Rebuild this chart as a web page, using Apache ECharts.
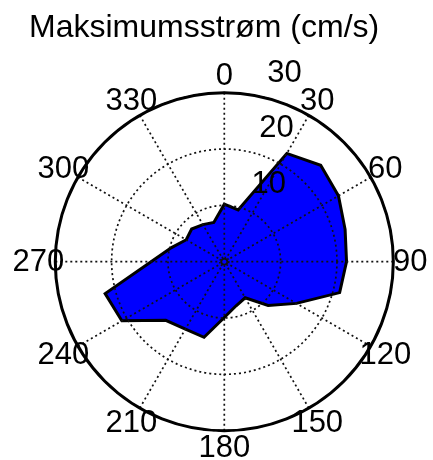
<!DOCTYPE html>
<html>
<head>
<meta charset="utf-8">
<script src="https://cdn.jsdelivr.net/npm/echarts@6/dist/echarts.min.js"></script>
<style>
  html, body { margin: 0; padding: 0; background: #fff; }
  #chart { width: 433px; height: 460px; }
</style>
</head>
<body>
<div id="chart"></div>
<script>
// ---- data ----
const titleText = 'Maksimumsstrøm (cm/s)';
const directions = [0, 15, 30, 45, 60, 75, 90, 105, 120, 135, 150, 165,
                    180, 195, 210, 225, 240, 255, 270, 285, 300, 315, 330, 345];
const maxSpeed = [10.2, 9.5, 22.2, 24.2, 23.4, 22.2, 21.7, 21.2, 14.8, 11.0, 7.4, 8.1,
                  9.9, 13.9, 13.8, 14.7, 21.0, 21.9, 13.0, 9.7, 7.8, 8.2, 7.6, 7.2];
const angleTicks = [0, 30, 60, 90, 120, 150, 180, 210, 240, 270, 300, 330];
const radialTicks = [10, 20, 30];

const FONT = '"Liberation Sans", Arial, sans-serif';
const chart = echarts.init(document.getElementById('chart'));

const gridLine = { color: '#111', width: 1.7, type: [2, 3] };

const option = {
  backgroundColor: '#fff',
  animation: false,
  title: {
    text: titleText,
    left: 29, top: 12, padding: 0,
    textStyle: { fontFamily: FONT, fontSize: 32, fontWeight: 'normal', color: '#000' }
  },
  polar: { center: [224.3, 261.7], radius: 169 },
  angleAxis: {
    type: 'value', min: 0, max: 360, interval: 30,
    startAngle: 90, clockwise: true, z: 3,
    axisLine: { show: true, lineStyle: { color: '#000', width: 3 } },
    axisTick: { show: false },
    axisLabel: { show: false },
    splitLine: { show: true, lineStyle: gridLine }
  },
  radiusAxis: {
    type: 'value', min: 0, max: 30, interval: 10, z: 3,
    axisLine: { show: false },
    axisTick: { show: false },
    axisLabel: { show: false },
    splitLine: { show: true, lineStyle: gridLine }
  },
  series: [
    {
      type: 'custom',
      coordinateSystem: 'polar',
      z: 1,
      silent: true,
      data: [[maxSpeed[0], directions[0]]],
      renderItem: function (params, api) {
        const pts = directions.map((d, i) => api.coord([maxSpeed[i], d]));
        return {
          type: 'polygon',
          shape: { points: pts },
          style: { fill: '#0000ff', stroke: '#000', lineWidth: 3, lineJoin: 'miter' }
        };
      }
    },
    {
      type: 'custom',
      coordinateSystem: 'polar',
      z: 5,
      silent: true,
      data: [[0, 0]],
      renderItem: function (params, api) {
        const children = [];
        const c = api.coord([0, 0]);
        children.push({
          type: 'circle',
          shape: { cx: c[0], cy: c[1], r: 4.5 },
          style: { fill: 'none', stroke: '#111', lineWidth: 1.6, lineDash: [1.5, 1.5] }
        });
        angleTicks.forEach(a => {
          const p = api.coord([33, a]);
          children.push({
            type: 'text', x: p[0], y: p[1] + 1,
            style: { text: String(a), fill: '#000', fontSize: 31, fontFamily: FONT,
                     align: 'center', verticalAlign: 'middle' }
          });
        });
        radialTicks.forEach(r => {
          const p = api.coord([r + 0.5, 8]);
          children.push({
            type: 'text', x: p[0] + 19, y: p[1] - 3,
            style: { text: String(r), fill: '#000', fontSize: 31, fontFamily: FONT,
                     align: 'left', verticalAlign: 'bottom' }
          });
        });
        return { type: 'group', children: children };
      }
    }
  ]
};
chart.setOption(option);
</script>
</body>
</html>
